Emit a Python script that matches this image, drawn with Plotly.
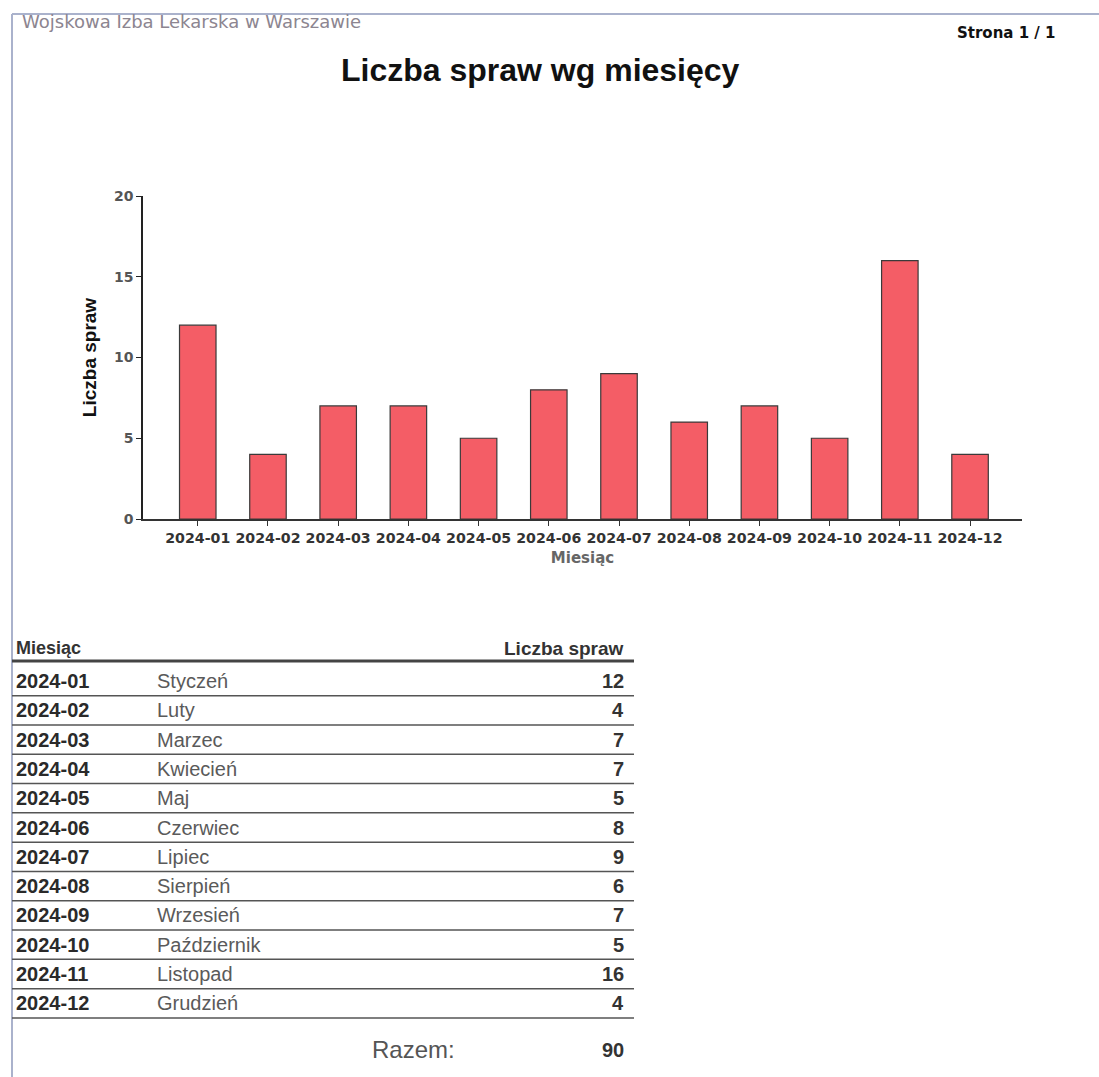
import plotly.graph_objects as go

# Dane
months = ["2024-01", "2024-02", "2024-03", "2024-04", "2024-05", "2024-06",
          "2024-07", "2024-08", "2024-09", "2024-10", "2024-11", "2024-12"]
month_names = ["Styczeń", "Luty", "Marzec", "Kwiecień", "Maj", "Czerwiec",
               "Lipiec", "Sierpień", "Wrzesień", "Październik", "Listopad", "Grudzień"]
counts = [12, 4, 7, 7, 5, 8, 9, 6, 7, 5, 16, 4]
y_ticks = [0, 5, 10, 15, 20]

W, H = 1099, 1077


def px(x):
    return x / W


def py(y):
    return 1 - y / H


fig = go.Figure()

fig.add_trace(
    go.Bar(
        x=months,
        y=counts,
        width=0.52,
        marker=dict(color="#f45d66", line=dict(color="#3a3a3a", width=1.2)),
        showlegend=False,
    )
)

fig.update_layout(
    width=W,
    height=H,
    margin=dict(l=0, r=0, t=0, b=0, autoexpand=False),
    paper_bgcolor="white",
    plot_bgcolor="white",
    font=dict(family="Liberation Sans, Arial, sans-serif", color="#222"),
    xaxis=dict(
        domain=[px(143), px(1022)],
        type="category",
        range=[-0.78, 11.74],
        automargin=False,
        showline=True,
        linecolor="#333",
        linewidth=1.5,
        ticks="outside",
        ticklen=5,
        tickcolor="#333",
        tickangle=0,
        showgrid=False,
        tickfont=dict(family="DejaVu Sans", size=14.2, color="#333", weight="bold"),
        title=dict(text="Miesiąc", standoff=8,
                   font=dict(family="DejaVu Sans", size=15, color="#666", weight="bold")),
        fixedrange=True,
    ),
    yaxis=dict(
        domain=[py(519), py(196)],
        range=[0, 20],
        tickvals=y_ticks,
        automargin=False,
        showline=True,
        linecolor="#222",
        linewidth=1.5,
        ticks="outside",
        ticklen=5,
        tickcolor="#222",
        showgrid=False,
        zeroline=False,
        tickfont=dict(family="DejaVu Sans", size=14, color="#555", weight="bold"),
        title=dict(text="Liczba spraw", standoff=12,
                   font=dict(family="Liberation Sans", size=19, color="#111", weight="bold")),
        fixedrange=True,
    ),
)

# Nagłówek strony
fig.add_annotation(x=px(20), y=py(22), xref="paper", yref="paper", showarrow=False,
                   xanchor="left", yanchor="middle", text="Wojskowa Izba Lekarska w Warszawie",
                   font=dict(family="DejaVu Sans", size=18, color="#8c8590"))
fig.add_annotation(x=px(1058), y=py(33), xref="paper", yref="paper", showarrow=False,
                   xanchor="right", yanchor="middle", text="Strona 1 / 1",
                   font=dict(family="DejaVu Sans", size=15, color="#111", weight="bold"))
fig.add_annotation(x=px(540), y=py(70), xref="paper", yref="paper", showarrow=False,
                   xanchor="center", yanchor="middle", text="Liczba spraw wg miesięcy",
                   font=dict(family="Liberation Sans", size=32, color="#111", weight="bold"))

# Ramka strony
fig.add_shape(type="line", xref="paper", yref="paper", x0=px(12), x1=1, y0=py(14), y1=py(14),
              line=dict(color="#aab2cc", width=2))
fig.add_shape(type="line", xref="paper", yref="paper", x0=px(12), x1=px(12), y0=py(14), y1=0,
              line=dict(color="#aab2cc", width=2))

# Tabela
tx0, tx1 = 12, 634
head_y = 648
row0_y = 681
row_h = 29.3

fig.add_annotation(x=px(14), y=py(head_y), xref="paper", yref="paper", showarrow=False,
                   xanchor="left", yanchor="middle", text="Miesiąc",
                   font=dict(family="Liberation Sans", size=18, color="#333", weight="bold"))
fig.add_annotation(x=px(626), y=py(head_y), xref="paper", yref="paper", showarrow=False,
                   xanchor="right", yanchor="middle", text="Liczba spraw",
                   font=dict(family="Liberation Sans", size=19, color="#333", weight="bold"))
fig.add_shape(type="line", xref="paper", yref="paper", x0=px(tx0), x1=px(tx1),
              y0=py(661), y1=py(661), line=dict(color="#444", width=3))

for i, (m, name, c) in enumerate(zip(months, month_names, counts)):
    yc = row0_y + i * row_h
    fig.add_annotation(x=px(14), y=py(yc), xref="paper", yref="paper", showarrow=False,
                       xanchor="left", yanchor="middle", text=m,
                       font=dict(family="Liberation Sans", size=20, color="#2a2a2a", weight="bold"))
    fig.add_annotation(x=px(155), y=py(yc), xref="paper", yref="paper", showarrow=False,
                       xanchor="left", yanchor="middle", text=name,
                       font=dict(family="Liberation Sans", size=20, color="#5a5a5a"))
    fig.add_annotation(x=px(626), y=py(yc), xref="paper", yref="paper", showarrow=False,
                       xanchor="right", yanchor="middle", text=str(c),
                       font=dict(family="Liberation Sans", size=20, color="#333", weight="bold"))
    yl = yc + row_h / 2
    fig.add_shape(type="line", xref="paper", yref="paper", x0=px(tx0), x1=px(tx1),
                  y0=py(yl), y1=py(yl), line=dict(color="#555", width=1.5))

total_y = row0_y + len(months) * row_h + 17
fig.add_annotation(x=px(413), y=py(total_y), xref="paper", yref="paper", showarrow=False,
                   xanchor="center", yanchor="middle", text="Razem:",
                   font=dict(family="Liberation Sans", size=24, color="#555"))
fig.add_annotation(x=px(626), y=py(total_y), xref="paper", yref="paper", showarrow=False,
                   xanchor="right", yanchor="middle", text=str(sum(counts)),
                   font=dict(family="Liberation Sans", size=20, color="#333", weight="bold"))

fig.write_html(
    "out.html",
    config={"displayModeBar": False},
    post_script=(
        "document.body.style.margin='0';"
        "document.body.style.overflow='hidden';"
        "document.documentElement.style.overflow='hidden';"
    ),
)
